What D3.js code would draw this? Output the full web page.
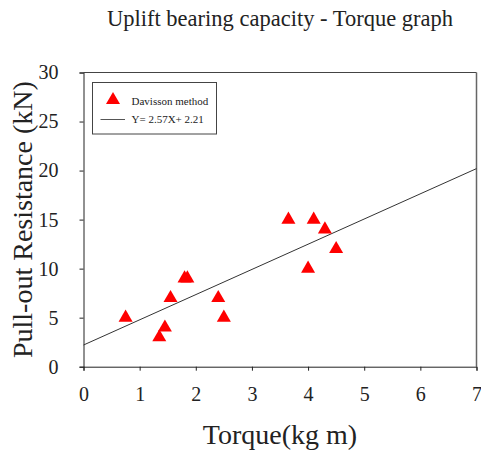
<!DOCTYPE html>
<meta charset="utf-8">
<style>
    body { margin: 0; background: #fff; }
    text { font-family: "Liberation Serif", "Times New Roman", serif; fill: #222; }
</style>
<svg id="svg" width="481" height="452"></svg>
<script src="https://d3js.org/d3.v7.min.js"></script>
<script>

    // data: torque (kg m) vs pull-out resistance (kN)
    var torque = [0.75, 1.35, 1.45, 1.55, 1.8, 1.85, 2.4, 2.5, 3.65, 4.0, 4.1, 4.3, 4.5];
    var resistance = [5, 3, 4, 7, 9, 9, 7, 5, 15, 10, 15, 14, 12];

    // fitted line Y = 2.57X + 2.21
    var slope = 2.57, intercept = 2.21;

    var xTicks = [0, 1, 2, 3, 4, 5, 6, 7];
    var yTicks = [0, 5, 10, 15, 20, 25, 30];

    var svg = d3.select("svg");
    // plot box (note: "top" is taken by window.top, so prefixed names)
    var pLeft = 83.5, pRight = 476.5, pTop = 72.5, pBottom = 366.7;

    var x = d3.scaleLinear().domain([0, 7]).range([pLeft, pRight]);
    var y = d3.scaleLinear().domain([0, 30]).range([pBottom, pTop]);

    // title
    svg.append("text")
        .attr("x", 280).attr("y", 26)
        .attr("text-anchor", "middle")
        .style("font-size", "22.5px")
        .text("Uplift bearing capacity - Torque graph");

    // frame (top and right lines)
    svg.append("line")
        .attr("x1", pLeft).attr("x2", pRight).attr("y1", pTop).attr("y2", pTop)
        .attr("stroke", "#444").attr("stroke-width", 1);
    svg.append("line")
        .attr("x1", pRight).attr("x2", pRight).attr("y1", pTop).attr("y2", pBottom)
        .attr("stroke", "#666").attr("stroke-width", 1.5);

    // axes
    var xAxis = svg.append("g")
        .attr("transform", "translate(0," + pBottom + ")")
        .call(d3.axisBottom(x).tickValues(xTicks).tickSize(4).tickPadding(16.5).tickFormat(d3.format("d")));
    var yAxis = svg.append("g")
        .attr("transform", "translate(" + pLeft + ",0)")
        .call(d3.axisLeft(y).tickValues(yTicks).tickSize(4).tickPadding(21).tickFormat(d3.format("d")));

    [xAxis, yAxis].forEach(function (g) {
        // d3 puts font-family="sans-serif" on the axis group, drop it
        g.attr("font-family", null).attr("font-size", null);
        g.select(".domain").attr("stroke", "#222");
        g.selectAll(".tick line").attr("stroke", "#222");
        g.selectAll(".tick text")
            .attr("font-family", "Liberation Serif")
            .attr("font-size", 20)
            .attr("fill", "#1a1a1a");
    });

    // axis titles
    svg.append("text")
        .attr("x", 280).attr("y", 444)
        .attr("text-anchor", "middle")
        .style("font-size", "28px")
        .text("Torque(kg m)");
    svg.append("text")
        .attr("transform", "translate(32," + ((pTop + pBottom) / 2) + ") rotate(-90)")
        .attr("text-anchor", "middle")
        .style("font-size", "28px")
        .text("Pull-out Resistance (kN)");

    // regression line
    svg.append("line")
        .attr("x1", x(0)).attr("y1", y(intercept))
        .attr("x2", x(7)).attr("y2", y(slope * 7 + intercept))
        .attr("stroke", "#333").attr("stroke-width", 1);

    // points
    var tri = d3.symbol().type(d3.symbolTriangle).size(85);
    svg.append("g").selectAll("path")
        .data(torque)
        .enter().append("path")
        .attr("d", tri)
        .attr("fill", "#ff0000")
        .attr("transform", function (d, i) {
            return "translate(" + x(d) + "," + y(resistance[i]) + ")";
        });

    // legend
    var legend = svg.append("g");
    legend.append("rect")
        .attr("x", 92.5).attr("y", 82.5).attr("width", 124).attr("height", 51.5)
        .attr("fill", "#fff").attr("stroke", "#444").attr("stroke-width", 1);
    legend.append("path")
        .attr("d", tri)
        .attr("fill", "#ff0000")
        .attr("transform", "translate(113,100)");
    legend.append("text")
        .attr("x", 131.5).attr("y", 105)
        .style("font-size", "11px")
        .text("Davisson method");
    legend.append("line")
        .attr("x1", 100.5).attr("x2", 125).attr("y1", 119.5).attr("y2", 119.5)
        .attr("stroke", "#555").attr("stroke-width", 1);
    legend.append("text")
        .attr("x", 131.5).attr("y", 123)
        .style("font-size", "11px")
        .text("Y= 2.57X+ 2.21");

</script>
